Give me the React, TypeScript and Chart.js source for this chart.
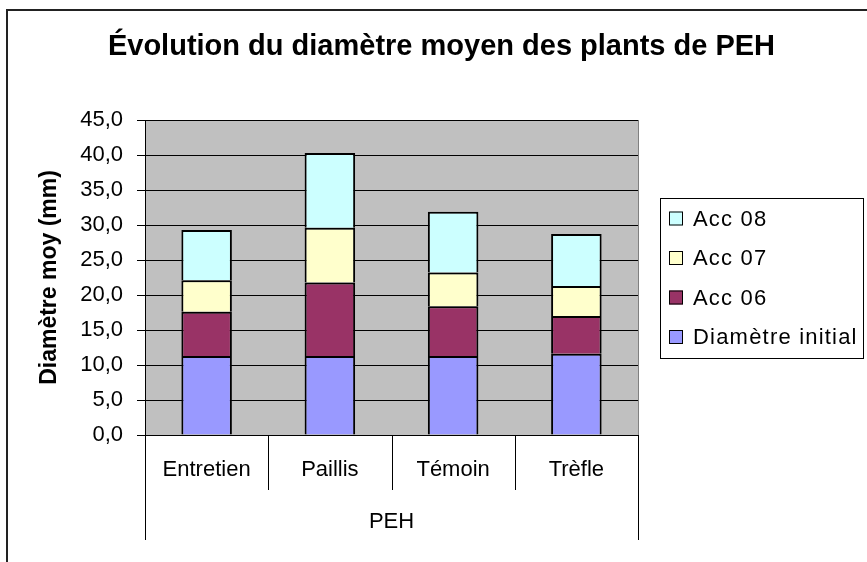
import React, { useEffect, useRef } from "react";
import { Chart, registerables } from "chart.js";

Chart.register(...registerables);

const TITLE = "Évolution du diamètre moyen des plants de PEH";
const Y_TITLE = "Diamètre moy (mm)";
const GROUP_LABELS = ["PEH"];
const categories = ["Entretien", "Paillis", "Témoin", "Trèfle"];
const diametreInitial = [11.3, 11.3, 11.3, 11.6];
const acc06 = [6.3, 10.5, 7.1, 5.4];
const acc07 = [4.5, 7.8, 4.8, 4.3];
const acc08 = [7.2, 10.7, 8.7, 7.4];
const Y_MIN = 0;
const Y_MAX = 45;
const Y_STEP = 5;

const FONT = "'Liberation Sans', Arial, sans-serif";

const decorPlugin = {
  id: "decor",
  beforeDraw(chart: any) {
    const { ctx, chartArea } = chart;
    ctx.save();
    ctx.fillStyle = "#ffffff";
    ctx.fillRect(0, 0, chart.width, chart.height);
    // outer frame
    ctx.strokeStyle = "#222";
    ctx.lineWidth = 2;
    ctx.strokeRect(7, 10, chart.width + 20, chart.height + 20);
    // plot background
    ctx.fillStyle = "#C0C0C0";
    ctx.fillRect(chartArea.left, chartArea.top, chartArea.right - chartArea.left, chartArea.bottom - chartArea.top);
    ctx.restore();
  },
  afterDraw(chart: any) {
    const { ctx, chartArea } = chart;
    const x = chart.scales.x;
    const x2 = chart.scales.x2;
    ctx.save();
    // plot border right
    ctx.strokeStyle = "#808080";
    ctx.lineWidth = 1;
    ctx.beginPath();
    ctx.moveTo(Math.round(chartArea.right) + 0.5, chartArea.top);
    ctx.lineTo(Math.round(chartArea.right) + 0.5, chartArea.bottom);
    ctx.stroke();

    // category separators
    ctx.strokeStyle = "#000";
    const n = categories.length;
    const w = (x.right - x.left) / n;
    for (let i = 0; i <= n; i++) {
      const px = Math.round(x.left + i * w) + 0.5;
      const bottom = i === 0 || i === n ? x2.bottom : x.bottom;
      ctx.beginPath();
      ctx.moveTo(px, chartArea.bottom);
      ctx.lineTo(px, bottom);
      ctx.stroke();
    }

    // title
    ctx.fillStyle = "#000";
    ctx.font = `bold 29px ${FONT}`;
    ctx.textAlign = "center";
    ctx.textBaseline = "middle";
    ctx.fillText(TITLE, chart.width / 2 + 8, 47);

    // legend (reverse order)
    const ds = chart.data.datasets;
    const lx = chartArea.right + 22;
    const ly = (chartArea.top + chartArea.bottom) / 2 - 80;
    const lw = 203;
    const lh = 160;
    ctx.strokeStyle = "#000";
    ctx.lineWidth = 1;
    ctx.strokeRect(Math.round(lx) + 0.5, Math.round(ly) + 0.5, lw, lh);
    ctx.font = `22px ${FONT}`;
    ctx.textAlign = "left";
    ctx.textBaseline = "middle";
    try {
      (ctx as any).letterSpacing = "1.2px";
    } catch (e) {}
    for (let k = 0; k < ds.length; k++) {
      const d = ds[ds.length - 1 - k];
      const cy = ly + 21 + k * 39.5;
      ctx.fillStyle = d.backgroundColor;
      ctx.fillRect(lx + 9, cy - 7, 14, 14);
      ctx.strokeStyle = "#000";
      ctx.strokeRect(lx + 9.5, cy - 6.5, 13, 13);
      ctx.fillStyle = "#000";
      ctx.fillText(d.label, lx + 33, cy + 1);
    }
    try {
      (ctx as any).letterSpacing = "0px";
    } catch (e) {}
    ctx.restore();
  },
};

export default function App() {
  const ref = useRef<HTMLCanvasElement | null>(null);
  useEffect(() => {
    if (!ref.current) return;
    Chart.defaults.font.family = FONT;
    Chart.defaults.color = "#000";
    const mk = (label: string, data: number[], color: string) => ({
      label,
      data,
      backgroundColor: color,
      borderColor: "#000",
      borderWidth: 2,
      barPercentage: 0.41,
      categoryPercentage: 1,
    });
    const chart = new Chart(ref.current, {
      type: "bar",
      data: {
        labels: categories,
        datasets: [
          mk("Diamètre initial", diametreInitial, "#9999FF"),
          mk("Acc 06", acc06, "#993366"),
          mk("Acc 07", acc07, "#FFFFCC"),
          mk("Acc 08", acc08, "#CCFFFF"),
        ],
      },
      options: {
        responsive: false,
        animation: false,
        devicePixelRatio: 1,
        layout: { padding: { left: 0, right: 229, top: 120, bottom: 22 } },
        plugins: {
          legend: { display: false },
          title: { display: false },
          tooltip: { enabled: false },
        },
        scales: {
          x: {
            stacked: true,
            position: "bottom",
            weight: 0,
            grid: { display: false, drawTicks: false },
            border: { display: true, color: "#000", width: 1 },
            ticks: { font: { size: 22 }, padding: 22, maxRotation: 0, autoSkip: false },
            afterFit: (s: any) => {
              s.height = 55;
            },
          },
          x2: {
            type: "category",
            labels: GROUP_LABELS,
            position: "bottom",
            weight: 1,
            offset: true,
            grid: { display: false, drawTicks: false },
            border: { display: false },
            ticks: { font: { size: 22 }, padding: 19, maxRotation: 0 },
            afterFit: (s: any) => {
              s.height = 50;
            },
          },
          y: {
            stacked: true,
            min: Y_MIN,
            max: Y_MAX,
            ticks: {
              stepSize: Y_STEP,
              font: { size: 22 },
              padding: 14,
              callback: (v: any) => Number(v).toFixed(1).replace(".", ","),
            },
            grid: { color: "#000", lineWidth: 1, tickLength: 8 },
            border: { display: true, color: "#000", width: 1 },
            title: {
              display: true,
              text: Y_TITLE,
              font: { size: 23, weight: "bold" },
              padding: { top: 36, bottom: 0 },
            },
            afterFit: (s: any) => {
              s.width = 145;
            },
          },
        },
      },
      plugins: [decorPlugin],
    } as any);
    return () => chart.destroy();
  }, []);
  return (
    <div style={{ position: "fixed", left: 0, top: 0, width: 867, height: 562, background: "#fff" }}>
      <canvas ref={ref} width={867} height={562} />
    </div>
  );
}
